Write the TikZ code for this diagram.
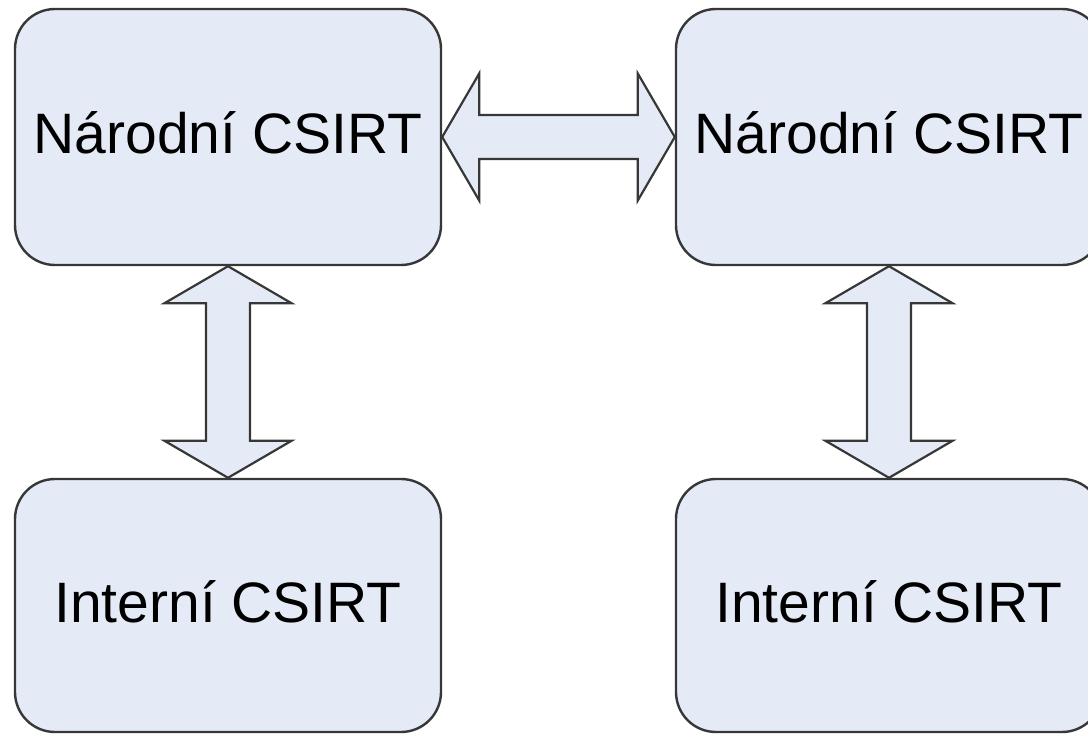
\documentclass[tikz,border=0pt]{standalone}
\usepackage{fontspec}
\setmainfont{Liberation Sans}
\usetikzlibrary{calc}

\definecolor{boxfill}{RGB}{228,234,246}
\definecolor{boxline}{RGB}{55,55,55}

% fat two-headed arrow between two points
\newcommand{\biarrow}[2]{
	\draw[fatarrow] (#1)
	-- ($(#1)!37pt!(#2)!63.5pt!90:(#2)$)
	-- ($(#1)!37pt!(#2)!22pt!90:(#2)$)
	-- ($(#2)!37pt!(#1)!22pt!-90:(#1)$)
	-- ($(#2)!37pt!(#1)!63.5pt!-90:(#1)$)
	-- (#2)
	-- ($(#2)!37pt!(#1)!63.5pt!90:(#1)$)
	-- ($(#2)!37pt!(#1)!22pt!90:(#1)$)
	-- ($(#1)!37pt!(#2)!22pt!-90:(#2)$)
	-- ($(#1)!37pt!(#2)!63.5pt!-90:(#2)$)
	-- cycle;
}

\begin{document}
\begin{tikzpicture}[
	x=1pt, y=1pt,
	csirt/.style={
		rectangle,
		rounded corners=40pt,
		draw=boxline,
		line width=2.4pt,
		fill=boxfill,
		minimum width=426pt,
		inner sep=0pt,
		text height=41pt,
		text depth=8pt,
		font=\fontsize{57}{60}\selectfont
	},
	fatarrow/.style={
		draw=boxline,
		line width=2.2pt,
		fill=boxfill,
		line join=miter
	}
	]

	\clip (0,0) rectangle (1088,-734);

	% National teams
	\node[csirt, minimum height=256pt] (nar1) at (228,-137) {Národní CSIRT};
	\node[csirt, minimum height=256pt] (nar2) at (889,-137) {Národní CSIRT};

	% Internal teams
	\node[csirt, minimum height=253pt] (int1) at (228,-605.5) {Interní CSIRT};
	\node[csirt, minimum height=253pt] (int2) at (889,-605.5) {Interní CSIRT};

	% Links
	\biarrow{nar1.east}{nar2.west}
	\biarrow{nar1.south}{int1.north}
	\biarrow{nar2.south}{int2.north}

\end{tikzpicture}
\end{document}
